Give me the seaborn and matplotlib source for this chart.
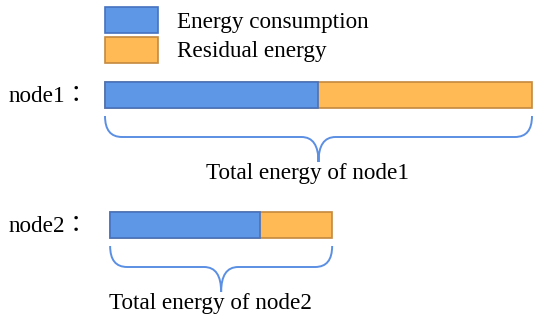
import numpy as np
import pandas as pd
import matplotlib
matplotlib.use("Agg")
import matplotlib.pyplot as plt
from matplotlib.path import Path
from matplotlib.patches import PathPatch, Patch
import seaborn as sns

# data
nodes = ["node1", "node2"]
consumption = [50, 35]
residual = [50, 17]
series_labels = ["Energy consumption", "Residual energy"]

# layout (pixels of the 550x327 picture, x in energy units)
row_y = [95, 225]
row_start = [0, 1.2]
px_per_unit = 4.27
blue, blue_edge = "#5E97E6", "#4672C1"
orange, orange_edge = "#FFB955", "#C58A3E"
brace_col = "#5B8FE3"
fs = 16.7
fs_px = fs * 100 / 72

sns.set_theme(style="white")
plt.rcParams["font.family"] = ["Liberation Serif", "Noto Sans CJK TC"]
plt.rcParams["text.color"] = "black"

df = pd.DataFrame({"node": nodes, "cons": consumption, "res": residual, "y": row_y})
df["total"] = df["cons"] + df["res"]

fig = plt.figure(figsize=(5.5, 3.27), dpi=100)
ax = fig.add_axes([0, 0, 1, 1])

# stacked bars: full total in orange, consumption in blue on top
sns.barplot(data=df, x="total", y="y", orient="h", native_scale=True, width=0.2,
            color=orange, edgecolor=orange_edge, linewidth=1.2, saturation=1,
            errorbar=None, ax=ax)
sns.barplot(data=df, x="cons", y="y", orient="h", native_scale=True, width=0.2,
            color=blue, edgecolor=blue_edge, linewidth=1.2, saturation=1,
            errorbar=None, ax=ax)
# shift each row to its start
for i, p in enumerate(ax.patches):
    p.set_x(p.get_x() + row_start[i % 2])


def brace(x0, x1, ytop, ymid, ytip, r):
    xc = (x0 + x1) / 2
    verts = [(x0, ytop), (x0, ymid), (x0 + r, ymid),
             (xc - r, ymid), (xc, ymid), (xc, ytip),
             (xc, ymid), (xc + r, ymid),
             (x1 - r, ymid), (x1, ymid), (x1, ytop)]
    codes = [Path.MOVETO, Path.CURVE3, Path.CURVE3,
             Path.LINETO, Path.CURVE3, Path.CURVE3,
             Path.CURVE3, Path.CURVE3,
             Path.LINETO, Path.CURVE3, Path.CURVE3]
    ax.add_patch(PathPatch(Path(verts, codes), fill=False, edgecolor=brace_col, lw=1.4))


r = 17 / px_per_unit
for i, row in df.iterrows():
    x0 = row_start[i]
    x1 = x0 + row["total"]
    yb = row["y"] + 13
    brace(x0, x1, yb + 8, yb + 29, yb + 54, r)
    ax.text((x0 + x1) / 2 - 2.5, yb + 66, f"Total energy of {row['node']}",
            ha="center", va="center", fontsize=fs, color="black")
    ax.text(-96 / px_per_unit, row["y"] + 2, f"{row['node']}：",
            ha="left", va="center", fontsize=fs, color="black")

handles = [Patch(facecolor=blue, edgecolor=blue_edge, lw=1.2),
           Patch(facecolor=orange, edgecolor=orange_edge, lw=1.2)]
ax.legend(handles, series_labels, loc="upper left", frameon=False,
          bbox_to_anchor=(105 / 550, 1 - 7 / 327), borderpad=0, borderaxespad=0,
          handlelength=53 / fs_px, handleheight=1.35, handletextpad=0.8,
          labelspacing=0.15, fontsize=fs, labelcolor="black")

ax.set_xlim(-105 / px_per_unit, 445 / px_per_unit)
ax.set_ylim(327, 0)
ax.axis("off")

fig.savefig("out.png", dpi=100)
